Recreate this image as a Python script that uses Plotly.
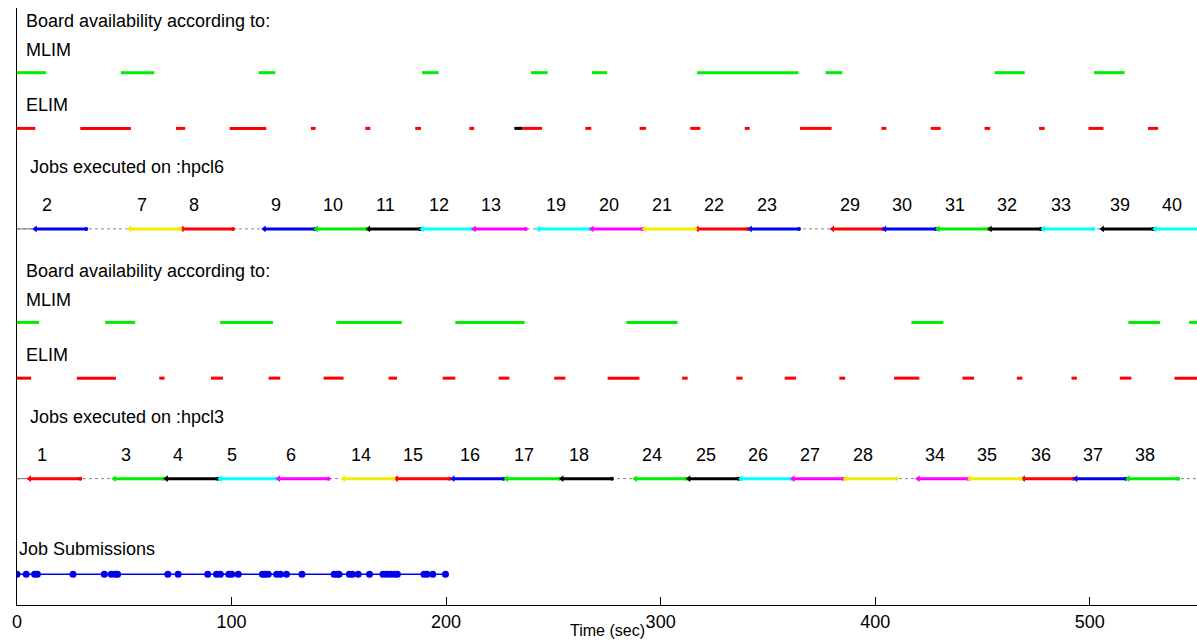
import plotly.graph_objects as go

# ---------------- data (time in seconds) ----------------
# hpcl6 board availability
mlim6_start = [0, 48.4, 112.6, 188.8, 239.6, 268.0, 317.0, 376.9, 455.7, 502.0]
mlim6_end = [13.5, 64.0, 120.4, 196.5, 247.3, 275.0, 364.2, 384.7, 469.7, 516.3]
elim6_start = [0, 29.5, 74.1, 99.1, 137.0, 162.3, 185.6, 210.8, 235.4, 264.9,
               290.2, 313.8, 339.2, 365.0, 402.9, 425.9, 451.0, 476.4, 499.4, 527.2]
elim6_end = [8.5, 53.1, 78.4, 116.2, 139.2, 164.7, 188.3, 213.1, 244.7, 267.7,
             293.2, 318.5, 341.5, 379.7, 405.2, 430.5, 453.6, 479.0, 506.4, 531.9]
elim6_unknown_start = [231.8]
elim6_unknown_end = [235.4]

# hpcl6 jobs
jobs6_id = [2, 7, 8, 9, 10, 11, 12, 13, 19, 20, 21, 22, 23, 29, 30, 31, 32, 33, 39, 40]
jobs6_start = [8.5, 52.5, 76.9, 115.2, 139.5, 163.9, 188.8, 213.1, 243.1, 268.0,
               292.5, 317.0, 341.8, 380.1, 404.4, 429.3, 453.6, 478.4, 505.9, 530.5]
jobs6_end = [32.3, 76.1, 100.7, 139.0, 163.1, 188.0, 212.1, 237.2, 266.8, 291.6,
             316.2, 340.7, 364.5, 403.8, 428.2, 452.8, 477.2, 501.7, 529.6, 554.0]

# hpcl3 board availability
mlim3_start = [0, 41.1, 94.7, 148.8, 204.3, 284.0, 416.9, 518.0, 546.3]
mlim3_end = [10.3, 55.1, 119.3, 179.4, 236.6, 307.9, 431.8, 532.8, 560.0]
elim3_start = [0, 27.9, 66.3, 90.4, 117.3, 142.9, 173.2, 198.4, 224.5, 250.4, 275.3,
               310.0, 335.3, 357.8, 383.3, 408.8, 440.7, 466.0, 491.5, 514.0, 539.5]
elim3_end = [6.6, 46.1, 68.8, 96.0, 122.7, 152.2, 177.1, 204.3, 229.5, 255.6, 290.1,
             312.6, 338.2, 363.1, 386.0, 420.6, 446.1, 468.6, 494.0, 519.4, 560.0]

# hpcl3 jobs
jobs3_id = [1, 3, 4, 5, 6, 14, 15, 16, 17, 18, 24, 25, 26, 27, 28, 34, 35, 36, 37, 38]
jobs3_start = [5.8, 45.3, 69.6, 94.7, 121.9, 152.2, 176.8, 203.2, 228.1, 254.0,
               288.2, 313.1, 337.5, 361.7, 386.2, 420.0, 444.2, 469.1, 493.5, 517.9]
jobs3_end = [29.5, 68.3, 93.5, 120.8, 145.2, 175.5, 201.6, 226.8, 252.9, 277.3,
             312.0, 336.4, 360.8, 385.0, 409.9, 443.3, 467.8, 492.4, 516.8, 541.2]

# job submissions
submit_times = [0.0, 4.3, 8.2, 9.5, 26.1, 40.7, 43.9, 45.7, 46.9, 70.3,
                75.1, 88.9, 93.0, 94.8, 98.7, 100.1, 103.1, 114.4, 115.6, 117.1,
                121.0, 122.8, 125.6, 132.8, 147.8, 149.2, 150.1, 154.9, 156.3, 159.0,
                164.3, 170.6, 172.4, 174.2, 175.9, 177.3, 189.7, 191.1, 193.8, 199.7]

x_ticks = [0, 100, 200, 300, 400, 500]
x_max = 550

# ---------------- styling ----------------
FONT = "Liberation Sans, Arial, Helvetica, sans-serif"
FS = 18
PALETTE = ["#FF0000", "#0000EE", "#00EE00", "#000000", "#00FFFF", "#FF00FF", "#EEEE00"]
GREEN = "#00EE00"
RED = "#FF0000"

# row layout (y units)
ROW_SUBMIT = 0.31
BLOCKS = [  # (job row base, host name)
    (3.78, "hpcl6"),
    (1.27, "hpcl3"),
]
D_ELIM, D_MLIM = 1.01, 1.57

fig = go.Figure()


def seg_xy(starts, ends, y):
    xs, ys = [], []
    for s, e in zip(starts, ends):
        xs += [s, e, None]
        ys += [y, y, None]
    return xs, ys


def add_segments(starts, ends, y, color, width=3):
    xs, ys = seg_xy(starts, ends, y)
    fig.add_trace(go.Scatter(x=xs, y=ys, mode="lines",
                             line=dict(color=color, width=width),
                             hoverinfo="skip"))


def add_jobs(ids, starts, ends, y):
    # idle baseline (dotted) and solid lead-in
    fig.add_trace(go.Scatter(x=[0, x_max], y=[y, y], mode="lines",
                             line=dict(color="#8a8a8a", width=1, dash="dot"),
                             hoverinfo="skip"))
    fig.add_trace(go.Scatter(x=[0, min(starts)], y=[y, y], mode="lines",
                             line=dict(color="#777777", width=1),
                             hoverinfo="skip"))
    for k in range(7):
        sel = [i for i, j in enumerate(ids) if (j - 1) % 7 == k]
        if not sel:
            continue
        color = PALETTE[k]
        s = [starts[i] for i in sel]
        e = [ends[i] for i in sel]
        add_segments(s, e, y, color, 3)
        fig.add_trace(go.Scatter(x=s, y=[y] * len(s), mode="markers",
                                 marker=dict(symbol="triangle-left", size=6, color=color),
                                 hoverinfo="skip"))
        fig.add_trace(go.Scatter(x=e, y=[y] * len(e), mode="markers",
                                 marker=dict(symbol="circle", size=4, color=color),
                                 hoverinfo="skip"))


annotations = []


def label(x, y, text, anchor="left"):
    annotations.append(dict(x=x, y=y, xref="x", yref="y", text=text, showarrow=False,
                            xanchor=anchor, yanchor="middle",
                            font=dict(family=FONT, size=FS, color="black")))


block_data = {
    "hpcl6": (mlim6_start, mlim6_end, elim6_start, elim6_end, jobs6_id, jobs6_start, jobs6_end),
    "hpcl3": (mlim3_start, mlim3_end, elim3_start, elim3_end, jobs3_id, jobs3_start, jobs3_end),
}

for base, host in BLOCKS:
    ms, me, es, ee, ids, js, je = block_data[host]
    add_segments(ms, me, base + D_MLIM, GREEN, 3)
    add_segments(es, ee, base + D_ELIM, RED, 3)
    if host == "hpcl6":
        add_segments(elim6_unknown_start, elim6_unknown_end, base + D_ELIM, "#000000", 3)
    add_jobs(ids, js, je, base)

    label(3.2, base + 2.09, "Board availability according to:")
    label(3.2, base + 1.80, "MLIM")
    label(3.2, base + 1.245, "ELIM")
    label(5.0, base + 0.62, "Jobs executed on :" + host)
    for j, s in zip(ids, js):
        label(s + 2.4, base + 0.24, str(j))

# submissions
fig.add_trace(go.Scatter(x=submit_times, y=[ROW_SUBMIT] * len(submit_times),
                         mode="lines+markers",
                         line=dict(color="#0000EE", width=1.5),
                         marker=dict(symbol="circle", size=7, color="#0000EE"),
                         hoverinfo="skip"))
label(0, 0.56, "Job Submissions")

annotations.append(dict(x=0.5, y=-0.0603, xref="paper", yref="paper", text="Time (sec)",
                        showarrow=False, xanchor="center", yanchor="bottom",
                        font=dict(family=FONT, size=16, color="black")))

fig.update_layout(
    width=1197, height=641,
    margin=dict(l=17, r=0, t=8, b=36),
    plot_bgcolor="white", paper_bgcolor="white",
    showlegend=False,
    annotations=annotations,
    xaxis=dict(range=[0, x_max], showline=True, linecolor="black", linewidth=1,
               ticks="inside", ticklen=8, tickcolor="black", tickwidth=1,
               tickvals=x_ticks, showgrid=False, zeroline=False,
               tickfont=dict(family=FONT, size=FS, color="black")),
    yaxis=dict(range=[0, 6], showline=True, linecolor="black", linewidth=1,
               showticklabels=False, ticks="", showgrid=False, zeroline=False),
)

fig.write_html("out.html")
